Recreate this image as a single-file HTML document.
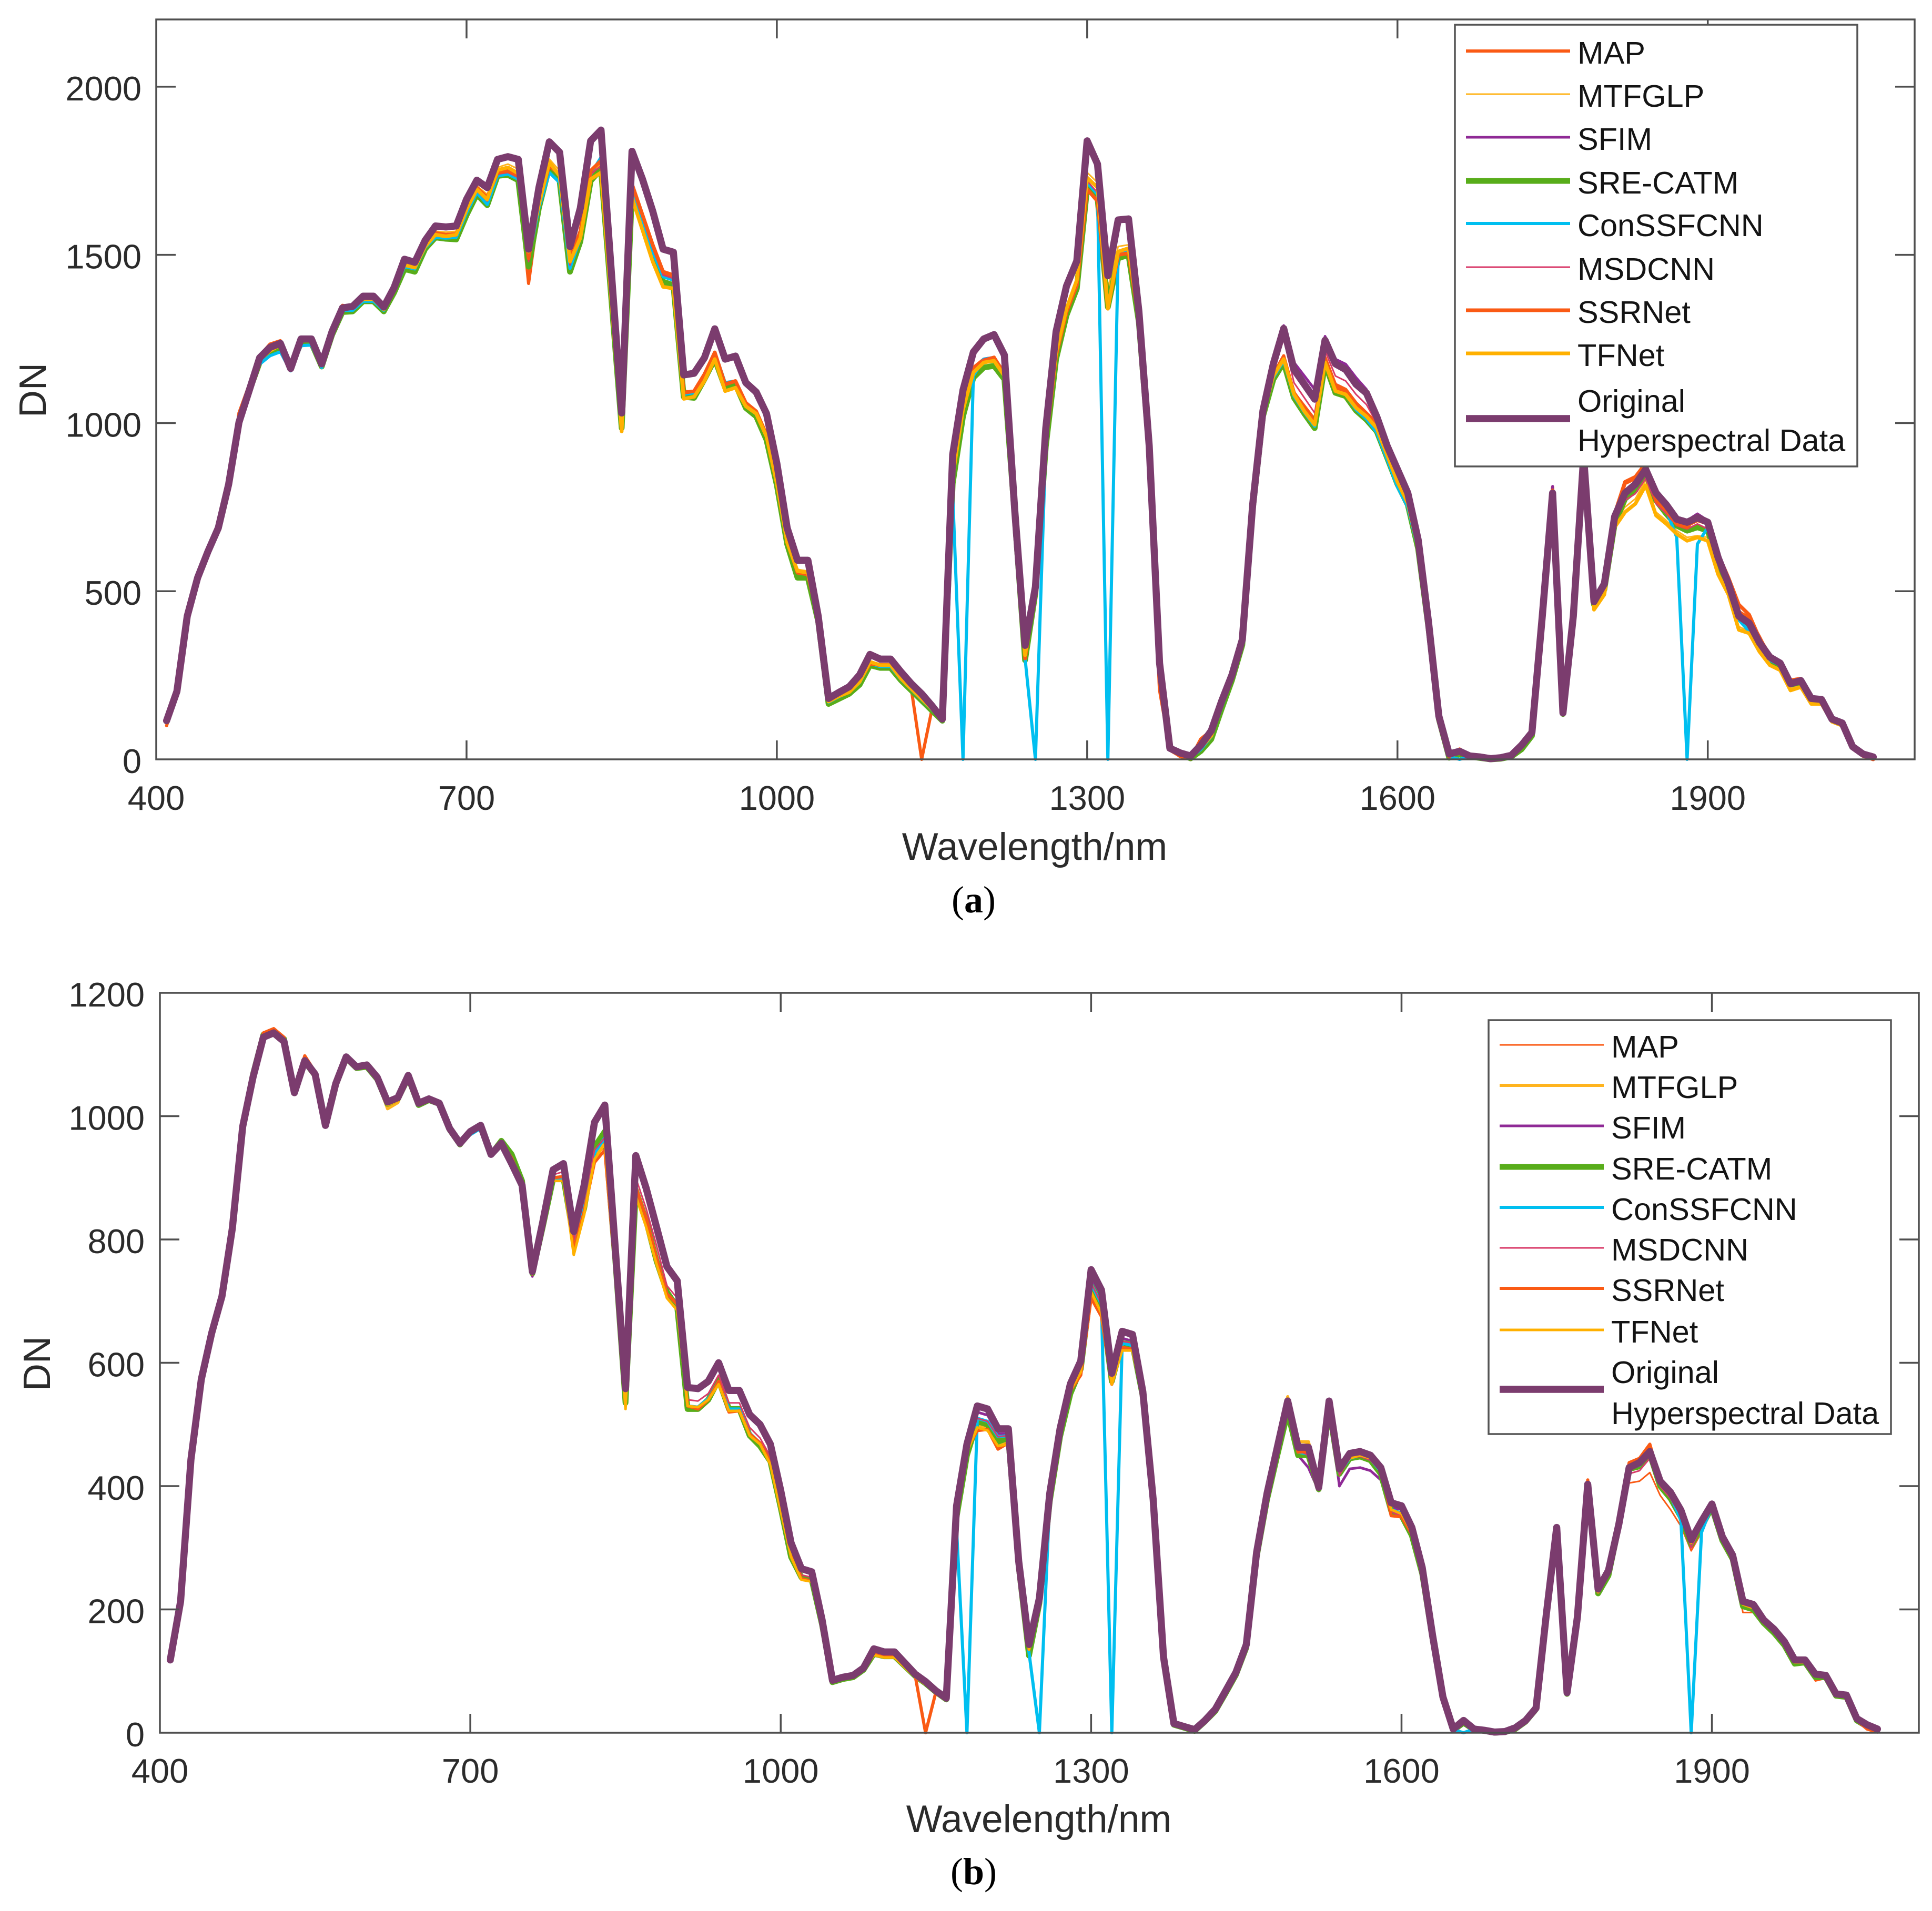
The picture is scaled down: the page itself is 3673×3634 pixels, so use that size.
<!DOCTYPE html>
<html lang="en">
<head>
<meta charset="utf-8">
<title>Spectral curves of fused hyperspectral data</title>
<style>
html,body{margin:0;padding:0;background:#fff;width:3673px;height:3634px;overflow:hidden}
svg{display:block;font-family:"Liberation Sans",sans-serif}
</style>
</head>
<body>
<svg id="figure" xmlns="http://www.w3.org/2000/svg" width="3673" height="3634" viewBox="0 0 3673 3634">
<rect width="3673" height="3634" fill="#ffffff"/>
<text x="1851" y="1735" text-anchor="middle" font-size="72" fill="#000" style="font-family:'Liberation Serif',serif">(<tspan font-weight="bold">a</tspan>)</text>
<text x="1851" y="3583" text-anchor="middle" font-size="72" fill="#000" style="font-family:'Liberation Serif',serif">(<tspan font-weight="bold">b</tspan>)</text>
</svg>
<script>
const wavelengths=[410,420,430,440,450,460,470,480,490,500,
510,520,530,540,550,560,570,580,590,600,
610,620,630,640,650,660,670,680,690,700,
710,720,730,740,750,760,770,780,790,800,
810,820,830,840,850,860,870,880,890,900,
910,920,930,940,950,960,970,980,990,1000,
1010,1020,1030,1040,1050,1060,1070,1080,1090,1100,
1110,1120,1130,1140,1150,1160,1170,1180,1190,1200,
1210,1220,1230,1240,1250,1260,1270,1280,1290,1300,
1310,1320,1330,1340,1350,1360,1370,1380,1390,1400,
1410,1420,1430,1440,1450,1460,1470,1480,1490,1500,
1510,1520,1530,1540,1550,1560,1570,1580,1590,1600,
1610,1620,1630,1640,1650,1660,1670,1680,1690,1700,
1710,1720,1730,1740,1750,1760,1770,1780,1790,1800,
1810,1820,1830,1840,1850,1860,1870,1880,1890,1900,
1910,1920,1930,1940,1950,1960,1970,1980,1990,2000,
2010,2020,2030,2040,2050,2060];
const xTickLabels=[400,700,1000,1300,1600,1900];
const yTickLabelsA=[0,500,1000,1500,2000];
const yTickLabelsB=[0,200,400,600,800,1000,1200];
const seriesNames=["MAP","MTFGLP","SFIM","SRE-CATM","ConSSFCNN","MSDCNN","SSRNet","TFNet","Original Hyperspectral Data"];

/* Panel (a) */
const mapA=[100,200,425,545,625,700,825,1030,1115,1200,
1235,1245,1170,1255,1252,1178,1272,1350,1345,1372,
1372,1340,1400,1478,1468,1530,1562,1558,1560,1645,
1700,1660,1740,1745,1725,1415,1640,1755,1730,1480,
1560,1735,1775,1390,990,1700,1610,1515,1440,1435,
1095,1090,1140,1200,1110,1120,1055,1030,960,825,
650,555,552,415,172,190,203,232,288,282,
282,240,210,0,150,118,850,1050,1165,1190,
1195,1150,730,310,500,945,1195,1330,1410,1710,
1670,1350,1500,1505,1305,925,205,30,8,0,
55,80,165,245,350,745,1030,1145,1200,1090,
1050,1010,1195,1115,1100,1060,1030,1000,915,830,
770,640,400,125,10,28,10,5,1,3,
10,35,75,420,810,138,425,900,465,510,
720,820,835,875,780,735,705,695,710,700,
600,530,440,420,365,305,290,228,236,182,
180,120,108,38,12,3];
const mtfglpA=[115,202,426,542,622,695,820,1005,1100,1190,
1220,1235,1168,1248,1248,1175,1270,1345,1345,1372,
1372,1340,1398,1478,1470,1535,1570,1568,1570,1650,
1705,1680,1760,1770,1755,1515,1680,1785,1750,1490,
1580,1740,1770,1385,980,1680,1590,1490,1410,1405,
1080,1085,1135,1190,1105,1115,1050,1025,955,820,
645,565,560,415,172,188,202,232,290,282,
282,240,210,180,150,118,845,1045,1155,1185,
1190,1140,730,315,505,945,1215,1345,1430,1745,
1715,1400,1525,1530,1315,925,280,30,18,8,
38,75,162,242,348,748,1028,1140,1190,1085,
1040,1000,1185,1100,1090,1048,1022,988,908,830,
768,632,398,122,12,20,8,5,1,3,
10,35,75,420,790,136,425,895,450,500,
705,750,775,830,735,710,680,660,665,660,
560,500,395,380,325,285,270,210,220,170,
170,114,102,34,12,5];
const sfimA=[112,200,424,538,616,686,815,1000,1095,1190,
1220,1232,1160,1246,1246,1172,1268,1338,1342,1372,
1372,1340,1398,1482,1474,1538,1578,1578,1580,1660,
1716,1694,1778,1786,1778,1512,1694,1832,1800,1520,
1634,1835,1876,1448,1030,1804,1722,1626,1512,1504,
1138,1144,1190,1285,1186,1196,1116,1088,1025,876,
684,590,590,424,180,198,214,250,310,296,
296,258,224,194,158,118,902,1094,1208,1248,
1262,1200,738,338,510,980,1268,1404,1480,1845,
1775,1445,1610,1612,1330,930,285,32,18,9,
40,84,172,250,354,755,1035,1180,1290,1180,
1140,1100,1258,1190,1175,1135,1100,1025,935,865,
795,655,408,128,15,23,10,7,2,5,
12,42,80,426,812,138,426,905,470,525,
735,800,825,880,800,765,720,710,730,710,
605,530,430,410,350,306,288,226,236,182,
180,120,108,38,16,7];
const sreCatmA=[113,200,424,538,618,688,818,1000,1095,1180,
1208,1220,1168,1238,1238,1168,1262,1330,1332,1362,
1362,1332,1388,1458,1450,1518,1552,1548,1546,1618,
1680,1648,1735,1738,1722,1465,1640,1762,1720,1450,
1540,1720,1755,1370,985,1690,1600,1505,1420,1410,
1078,1075,1130,1190,1105,1115,1045,1020,950,815,
640,540,540,410,165,180,195,222,280,272,
272,235,205,175,145,115,820,1020,1135,1165,
1170,1130,720,295,495,930,1190,1320,1400,1700,
1670,1345,1490,1500,1300,915,280,33,15,3,
25,60,150,235,340,740,1020,1130,1180,1075,
1028,985,1176,1090,1080,1037,1010,975,897,818,
757,626,390,120,5,15,8,4,0,2,
8,30,70,415,790,135,420,900,460,505,
700,775,800,850,770,730,695,680,690,680,
590,510,420,395,340,295,280,222,230,178,
175,118,105,36,14,5];
const conSsfcnnA=[113,200,424,538,615,685,815,998,1092,1175,
1200,1212,1155,1230,1232,1165,1262,1335,1335,1362,
1362,1335,1392,1465,1458,1522,1552,1550,1552,1625,
1685,1650,1735,1740,1725,1490,1640,1745,1715,1460,
1550,1740,1790,1385,990,1690,1600,1510,1435,1425,
1085,1090,1145,1210,1120,1125,1060,1035,965,825,
650,555,552,414,170,186,200,228,285,276,
276,238,208,178,148,116,790,0,1140,1190,
1195,1148,725,300,0,940,1205,1335,1415,1715,
1680,0,1505,1510,1305,920,280,30,14,5,
30,68,155,240,345,742,1025,1135,1185,1080,
1032,990,1180,1095,1085,1040,1012,972,892,810,
750,625,392,120,8,0,8,5,1,3,
10,34,74,418,795,136,424,898,462,515,
720,790,810,855,780,740,660,0,640,690,
590,520,415,380,335,295,280,222,230,178,
175,118,105,36,14,5];
const msdcnnA=[114,201,425,540,618,688,818,1000,1096,1186,
1215,1228,1164,1244,1244,1172,1268,1338,1342,1368,
1368,1338,1394,1468,1460,1528,1560,1555,1556,1630,
1690,1660,1740,1745,1730,1480,1650,1770,1740,1470,
1560,1740,1765,1390,995,1700,1612,1520,1440,1430,
1088,1092,1145,1212,1120,1125,1060,1032,960,820,
645,555,552,414,172,188,202,232,285,280,
280,240,210,180,150,116,845,1045,1160,1190,
1198,1148,730,305,505,945,1205,1340,1420,1720,
1685,1360,1510,1520,1310,925,282,30,16,7,
36,72,162,242,348,748,1030,1150,1250,1120,
1075,1030,1215,1140,1125,1085,1055,1000,915,840,
775,640,400,125,12,20,8,5,1,3,
10,36,76,422,800,137,425,898,462,512,
715,770,790,835,760,730,695,685,700,685,
595,515,425,400,345,300,282,224,232,180,
177,119,106,37,14,6];
const ssrNetA=[112,200,425,542,622,695,825,1015,1105,1195,
1225,1240,1172,1252,1252,1178,1272,1345,1345,1372,
1372,1342,1400,1475,1465,1530,1565,1560,1562,1640,
1700,1670,1745,1750,1735,1490,1660,1765,1740,1490,
1570,1750,1780,1400,1000,1710,1620,1530,1450,1440,
1090,1095,1145,1210,1115,1125,1060,1035,965,825,
650,555,550,415,172,188,200,232,285,280,
280,240,210,180,150,118,845,1045,1160,1185,
1195,1145,730,300,500,940,1200,1330,1410,1695,
1660,1340,1500,1505,1305,920,215,28,10,2,
60,85,165,245,350,745,1030,1145,1195,1090,
1045,1000,1190,1105,1095,1050,1020,985,905,825,
765,635,398,125,8,30,12,6,1,3,
10,35,75,420,800,138,425,895,455,510,
730,825,840,880,770,740,700,690,725,700,
610,540,460,430,360,310,290,235,240,185,
180,122,108,38,10,0];
const tfNetA=[115,202,426,540,620,695,822,1005,1100,1188,
1215,1232,1170,1245,1245,1172,1268,1342,1342,1368,
1368,1338,1395,1470,1462,1525,1560,1555,1560,1635,
1695,1665,1752,1760,1742,1510,1650,1775,1735,1480,
1550,1725,1745,1365,975,1670,1575,1480,1405,1400,
1072,1078,1125,1190,1095,1105,1050,1028,960,820,
645,560,555,415,172,188,200,230,290,280,
280,240,210,180,150,118,840,1040,1150,1180,
1185,1140,730,310,505,945,1210,1340,1425,1730,
1700,1340,1510,1520,1310,920,275,30,18,8,
35,70,160,240,345,745,1025,1140,1190,1085,
1035,995,1180,1095,1085,1045,1020,985,905,825,
762,630,395,122,12,20,8,5,1,3,
10,35,75,420,785,136,425,895,445,490,
690,735,760,815,725,700,670,650,660,650,
550,490,385,375,320,280,265,205,215,165,
165,112,100,32,12,4];
const originalA=[115,202,426,540,618,688,818,1002,1098,1194,
1225,1237,1162,1250,1250,1176,1272,1342,1347,1377,
1377,1345,1403,1487,1478,1543,1586,1583,1586,1665,
1722,1700,1784,1792,1784,1517,1700,1836,1805,1525,
1639,1839,1871,1450,1030,1808,1726,1630,1517,1508,
1143,1148,1194,1280,1190,1199,1120,1092,1028,880,
688,592,592,426,181,199,216,251,312,298,
298,260,225,195,159,120,906,1098,1211,1250,
1263,1202,740,339,513,984,1272,1407,1482,1839,
1770,1438,1604,1607,1333,932,286,33,19,10,
42,85,173,251,356,757,1037,1176,1281,1159,
1115,1071,1246,1176,1159,1115,1089,1019,932,862,
792,653,408,129,16,24,10,7,2,5,
12,42,80,426,792,138,426,900,469,522,
722,792,818,862,792,757,714,705,719,705,
600,522,426,405,347,304,286,225,234,181,
178,120,108,38,16,7];

/* Panel (b) */
const mapB=[118,210,443,574,648,708,820,985,1066,1130,
1138,1122,1040,1095,1068,985,1052,1095,1078,1082,
1062,1022,1028,1064,1020,1028,1022,980,956,975,
985,938,958,934,892,748,826,900,900,790,
848,935,950,755,538,882,832,768,712,695,
528,526,540,570,522,524,484,468,438,364,
288,250,246,176,84,88,92,103,128,125,
125,108,92,80,66,54,354,458,500,495,
468,472,272,135,214,380,485,555,585,710,
682,565,628,625,543,372,120,15,12,5,
20,36,66,96,140,288,382,458,530,458,
458,400,530,424,448,452,445,425,356,352,
325,260,155,56,5,18,6,4,1,2,
8,20,40,192,330,65,188,405,225,255,
335,405,408,422,385,362,335,295,325,360,
305,275,195,195,175,160,140,112,112,84,
88,62,60,22,8,4];
const mtfglpB=[118,212,443,574,650,710,820,985,1065,1130,
1136,1122,1040,1092,1068,985,1052,1096,1080,1080,
1058,1012,1022,1065,1022,1028,1022,980,956,975,
985,938,958,930,890,745,825,898,898,780,
842,932,958,750,530,875,825,762,708,688,
530,528,542,568,524,524,484,468,436,362,
286,250,246,176,82,88,90,102,126,122,
122,106,90,80,66,54,352,455,498,492,
466,470,270,136,212,378,484,556,588,720,
685,568,630,628,545,370,120,14,9,4,
18,36,65,95,140,288,384,458,545,472,
472,412,535,428,448,452,446,426,362,356,
326,260,155,56,5,18,5,4,1,2,
7,18,38,190,332,64,186,408,230,260,
336,432,438,458,408,388,358,310,340,370,
316,286,210,204,180,165,146,116,116,92,
92,62,60,22,12,5];
const sfimB=[118,212,442,572,648,708,818,983,1063,1127,
1133,1120,1037,1088,1066,984,1052,1096,1080,1083,
1063,1023,1030,1068,1024,1030,1022,980,956,975,
985,938,956,922,886,740,826,912,925,812,
887,990,1018,787,556,935,882,820,756,732,
558,556,568,598,554,554,515,498,466,392,
306,264,260,182,84,89,92,104,135,130,
130,112,94,82,67,55,366,466,520,515,
485,485,276,141,216,386,491,564,600,735,
705,575,640,635,548,374,121,14,9,4,
19,37,67,97,142,291,386,455,530,450,
430,392,530,400,428,430,425,410,365,362,
328,264,156,57,5,19,6,4,1,2,
8,20,40,193,332,65,188,402,232,262,
338,425,430,450,405,388,360,312,342,370,
318,288,213,208,182,168,148,118,118,95,
93,63,61,23,13,6];
const sreCatmB=[118,212,442,572,650,708,820,985,1068,1132,
1135,1125,1040,1088,1066,985,1050,1094,1078,1080,
1060,1020,1028,1062,1018,1026,1020,978,954,975,
985,938,960,938,895,745,820,898,900,800,
850,950,975,770,535,880,830,765,715,690,
525,525,540,572,525,525,482,465,440,365,
285,252,248,175,82,87,90,102,128,124,
124,108,92,80,66,54,350,450,505,500,
472,478,270,125,210,375,480,550,590,725,
695,570,632,630,545,370,120,13,8,3,
18,35,64,94,138,285,378,450,520,450,
450,395,525,420,445,448,442,420,360,352,
320,258,152,55,4,16,5,3,0,1,
6,18,38,190,330,63,186,400,226,255,
335,428,432,452,400,380,350,305,335,365,
312,282,205,200,178,162,142,112,114,90,
90,60,58,20,10,4];
const conSsfcnnB=[118,212,442,572,648,708,818,984,1064,1130,
1135,1122,1038,1090,1066,985,1052,1095,1080,1082,
1062,1020,1028,1063,1020,1027,1020,979,955,970,
980,938,950,922,880,745,825,898,900,790,
850,940,965,755,540,885,835,770,712,695,
530,528,542,570,525,525,486,470,440,365,
290,250,246,177,83,88,91,103,130,125,
125,108,92,80,66,54,330,0,510,505,
480,482,274,130,0,378,486,555,590,728,
695,0,632,628,545,370,120,14,9,4,
18,36,66,96,140,288,382,458,528,455,
452,398,530,422,445,450,444,424,362,356,
326,260,155,56,5,0,6,4,1,2,
7,19,39,191,331,64,187,402,228,258,
336,428,434,452,404,384,345,0,325,368,
312,284,210,205,180,165,146,116,116,93,
92,62,60,22,12,5];
const msdcnnB=[118,212,443,573,648,708,818,984,1064,1129,
1136,1122,1039,1090,1068,985,1052,1096,1080,1083,
1062,1022,1029,1065,1021,1028,1021,980,956,975,
985,938,956,926,888,742,826,905,910,800,
865,945,965,760,545,900,850,790,725,705,
540,538,550,580,535,535,495,478,448,375,
295,256,252,178,84,89,92,104,132,128,
128,110,93,81,67,55,358,462,510,505,
480,482,274,138,215,382,488,558,592,730,
695,572,635,632,546,374,121,14,9,4,
19,37,67,97,141,290,385,458,532,458,
450,395,530,418,445,448,442,424,358,352,
325,262,156,57,5,19,6,4,1,2,
8,20,40,192,331,65,188,402,228,258,
335,420,425,445,400,380,352,300,335,365,
312,282,208,204,180,165,146,116,116,92,
92,62,60,22,12,5];
const ssrNetB=[118,212,443,574,650,710,820,985,1067,1135,
1142,1128,1042,1098,1072,985,1052,1096,1080,1082,
1060,1020,1026,1062,1020,1028,1020,978,956,975,
985,938,958,932,892,748,826,900,902,785,
845,925,945,750,540,885,835,770,712,695,
530,525,540,570,520,522,485,470,440,365,
290,250,246,178,84,88,92,103,130,126,
126,108,92,0,66,54,355,460,490,492,
460,470,272,135,214,380,485,555,580,705,
675,565,625,622,545,372,122,16,12,4,
18,36,66,96,140,288,382,458,525,455,
456,398,530,425,450,454,448,428,352,350,
322,262,155,56,3,18,5,4,1,2,
8,20,40,192,330,65,188,410,228,258,
340,438,445,468,410,390,358,315,342,370,
316,284,212,205,185,168,146,118,116,94,
92,62,60,20,6,1];
const tfNetB=[116,212,443,574,650,710,820,985,1065,1130,
1137,1122,1042,1092,1068,985,1052,1096,1080,1082,
1060,1018,1025,1065,1022,1028,1022,980,956,974,
985,938,958,930,890,745,825,895,895,775,
840,930,955,745,525,870,820,760,705,685,
530,528,540,565,522,522,482,468,435,360,
285,248,245,175,82,88,90,102,126,122,
122,106,90,78,65,53,352,455,495,490,
465,468,268,135,212,378,482,555,585,715,
680,565,620,620,540,368,118,14,8,3,
18,36,65,95,140,288,380,455,540,465,
468,410,530,425,445,450,445,425,362,355,
325,260,155,56,5,18,5,4,1,2,
7,18,38,190,330,64,186,405,228,260,
338,430,435,455,405,385,355,308,338,368,
312,284,208,202,178,165,144,114,114,92,
90,60,58,22,10,4];
const originalB=[118,213,443,573,648,708,818,983,1063,1128,
1135,1121,1038,1090,1068,985,1053,1096,1080,1083,
1063,1023,1030,1066,1021,1028,1021,980,956,975,
985,938,956,923,888,748,828,913,923,813,
888,990,1018,788,558,936,883,820,756,733,
560,558,570,600,555,555,516,500,468,393,
308,266,261,183,85,90,93,105,136,131,
131,113,95,83,68,56,368,468,530,525,
493,493,278,143,218,388,493,566,603,751,
718,583,651,646,553,378,123,15,10,5,
20,38,68,98,143,293,388,463,538,463,
463,398,538,428,453,456,450,430,373,368,
333,268,158,58,6,20,6,4,1,2,
8,20,40,193,333,65,188,403,233,263,
338,430,438,456,408,390,361,313,343,371,
318,288,213,208,183,168,148,118,118,95,
93,63,61,23,13,6];

const svgNS="http://www.w3.org/2000/svg";
const fig=document.getElementById("figure");
const seriesColors=["#fa5a14","#ffb41e","#8f2a96","#58ad1a","#00bff0","#d83a68","#fa5a14","#ffb000","#7b3c6e"];

function make(tag,attrs,parent){
  const el=document.createElementNS(svgNS,tag);
  for(const k in attrs){el.setAttribute(k,attrs[k]);}
  (parent||fig).appendChild(el);
  return el;
}

function drawPanel(cfg){
  const g=make("g",{});
  
  
  const sx=v=>cfg.left+(v-400)/(2100-400)*(cfg.right-cfg.left);
  const sy=v=>cfg.bottom-v/cfg.yMax*(cfg.bottom-cfg.top);

  cfg.values.forEach((vals,i)=>{
    const pts=vals.map((v,j)=>sx(wavelengths[j]).toFixed(1)+","+sy(v).toFixed(1)).join(" ");
    const line=make("polyline",{points:pts,fill:"none",stroke:seriesColors[i],"stroke-width":cfg.widths[i],"stroke-linejoin":"round","stroke-linecap":"round"},g);
    
    
  });

  const box=make("rect",{x:cfg.left,y:cfg.top,width:cfg.right-cfg.left,height:cfg.bottom-cfg.top,fill:"none",stroke:"#4f4f4f","stroke-width":3.5},g);
  
  

  xTickLabels.forEach(t=>{
    const x=sx(t);
    if(t>400){
      const a=make("line",{x1:x,x2:x,y1:cfg.bottom,y2:cfg.bottom-36,stroke:"#4f4f4f","stroke-width":3.5},g);
      
      
      const b=make("line",{x1:x,x2:x,y1:cfg.top,y2:cfg.top+36,stroke:"#4f4f4f","stroke-width":3.5},g);
      
      
    }
    const lab=make("text",{x:x,y:cfg.xTickBase,"text-anchor":"middle","font-size":65,fill:"#2b2b2b"},g);
    
    
    lab.textContent=t;
  });
  cfg.yTicks.forEach(t=>{
    const y=sy(t);
    if(t>0&&t<cfg.yMax){
      const a=make("line",{x1:cfg.left,x2:cfg.left+37,y1:y,y2:y,stroke:"#4f4f4f","stroke-width":3.5},g);
      
      
      const b=make("line",{x1:cfg.right,x2:cfg.right-37,y1:y,y2:y,stroke:"#4f4f4f","stroke-width":3.5},g);
      
      
    }
    const lab=make("text",{x:cfg.yLabelRight,y:y+26,"text-anchor":"end","font-size":65,fill:"#2b2b2b"},g);
    
    
    lab.textContent=t;
  });

  const xt=make("text",{x:cfg.xTitleX,y:cfg.xTitleY,"text-anchor":"middle","font-size":73,fill:"#2b2b2b"},g);
  
  
  xt.textContent="Wavelength/nm";
  const yt=make("text",{x:0,y:0,"text-anchor":"middle","font-size":72,fill:"#2b2b2b",transform:"translate("+cfg.yTitleX+" "+cfg.yTitleY+") rotate(-90)"},g);
  
  
  yt.textContent="DN";

  const lg=make("g",{},g);
  
  
  const lb=cfg.legend;
  const lr=make("rect",{x:lb.x,y:lb.y,width:lb.w,height:lb.h,fill:"#fff",stroke:"#555","stroke-width":3.5},lg);
  
  
  seriesNames.forEach((name,i)=>{
    const ly=lb.rows[i];
    const sw=make("line",{x1:lb.lineX,x2:lb.lineX+198,y1:ly,y2:ly,stroke:seriesColors[i],"stroke-width":cfg.widths[i]},lg);
    
    
    if(i<8){
      const t=make("text",{x:lb.textX,y:ly+24,"font-size":59.5,fill:"#141414"},lg);
      
      
      t.textContent=name;
    }else{
      const t1=make("text",{x:lb.textX,y:lb.orig1,"font-size":59.5,fill:"#141414"},lg);
      
      
      t1.textContent="Original";
      const t2=make("text",{x:lb.textX,y:lb.orig2,"font-size":59.5,fill:"#141414"},lg);
      
      
      t2.textContent="Hyperspectral Data";
    }
  });
}

drawPanel({id:"panel-a",left:297,right:3640,top:37,bottom:1444,yMax:2200,yTicks:yTickLabelsA,
  values:[mapA,mtfglpA,sfimA,sreCatmA,conSsfcnnA,msdcnnA,ssrNetA,tfNetA,originalA],
  widths:[6,3,5,11,6,3,7,7,13.5],
  xTickBase:1540,yLabelRight:269,xTitleX:1967,xTitleY:1635,yTitleX:87,yTitleY:742,
  legend:{x:2766,y:47,w:765,h:840,lineX:2787,textX:2999,rows:[97,179,261,344,425,508,590,672,796],orig1:783,orig2:858}});
drawPanel({id:"panel-b",left:304,right:3648,top:1888,bottom:3295,yMax:1200,yTicks:yTickLabelsB,
  values:[mapB,mtfglpB,sfimB,sreCatmB,conSsfcnnB,msdcnnB,ssrNetB,tfNetB,originalB],
  widths:[3,6,5,11,6,3,6,5,13.5],
  xTickBase:3390,yLabelRight:275,xTitleX:1975,xTitleY:3484,yTitleX:95,yTitleY:2593,
  legend:{x:2830,y:1940,w:765,h:787,lineX:2851,textX:3063,rows:[1987,2064,2141,2219,2296,2373,2450,2529,2642],orig1:2630,orig2:2708}});
</script>
</body>
</html>
